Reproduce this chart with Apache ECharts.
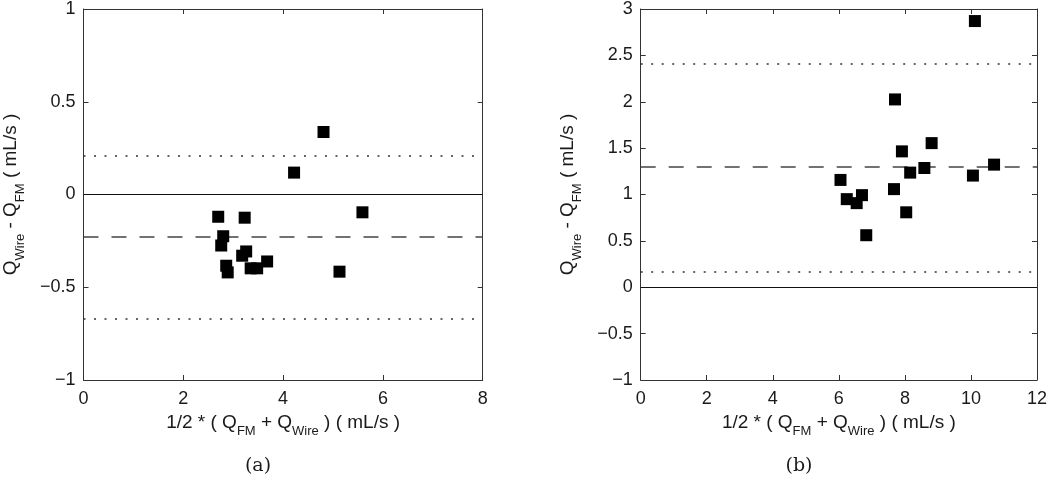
<!DOCTYPE html>
<html>
<head>
<meta charset="utf-8">
<script src="https://cdn.jsdelivr.net/npm/echarts@6/dist/echarts.min.js"></script>
<style>
html,body{margin:0;padding:0;background:#fff;}
#chart{width:1050px;height:483px;}
</style>
</head>
<body>
<div id="chart"></div>
<script>
// ---- data (panel a) ----
const aX = [4.81, 4.22, 5.59, 2.70, 3.23, 2.80, 2.76, 3.18, 3.26, 3.68, 2.86, 2.89, 3.35, 3.48, 5.13];
const aY = [0.337, 0.118, -0.096, -0.120, -0.125, -0.225, -0.275, -0.330, -0.307, -0.361, -0.384, -0.420, -0.398, -0.398, -0.416];
const aMean = -0.225;
const aUpper = 0.212;
const aLower = -0.666;
// ---- data (panel b) ----
const bX = [10.12, 7.70, 8.81, 7.91, 10.70, 8.59, 8.16, 10.06, 6.05, 7.67, 6.70, 6.24, 6.54, 8.04, 6.83];
const bY = [2.870, 2.025, 1.554, 1.465, 1.322, 1.286, 1.236, 1.204, 1.157, 1.058, 0.993, 0.950, 0.907, 0.808, 0.561];
const bMean = 1.297;
const bUpper = 2.408;
const bLower = 0.171;
// ---- axes ----
const aXRange = [0, 8];
const aYRange = [-1, 1];
const bXRange = [0, 12];
const bYRange = [-1, 3];
const xStep = 2;
const yStep = 0.5;
const captions = ['(a)', '(b)'];
const xName = ['1/2 * ( Q', 'FM', ' + Q', 'Wire', ' ) ( mL/s )'];
const yName = ['Q', 'Wire', ' - Q', 'FM', ' ( mL/s )'];

const FONT = '"Liberation Sans", Arial, sans-serif';
const TXT = '#1a1a1a';
const AXC = '#333';

function richName(parts) {
  return parts.map((p, i) => (i % 2 === 0 ? '{m|' : '{s|') + p + '}').join('');
}
const rich = {
  m: {fontSize: 19, fontFamily: FONT, color: TXT, lineHeight: 32, verticalAlign: 'middle'},
  s: {fontSize: 13, fontFamily: FONT, color: TXT, lineHeight: 32, verticalAlign: 'bottom'}
};
const fmt = v => String(v).replace('-', '\u2212');

function xAxisPair(gi, range) {
  const base = {
    gridIndex: gi, type: 'value', min: range[0], max: range[1], interval: xStep,
    splitLine: {show: false},
    axisLine: {show: true, onZero: false, lineStyle: {color: AXC, width: 1}},
    axisTick: {show: true, inside: true, length: 5, lineStyle: {color: AXC}}
  };
  return [
    Object.assign({}, base, {
      position: 'bottom',
      axisLabel: {show: true, fontSize: 18, fontFamily: FONT, color: TXT, margin: 10, formatter: fmt},
      name: richName(xName), nameLocation: 'middle', nameGap: 26,
      nameTextStyle: {rich: rich}
    }),
    Object.assign({}, base, {position: 'top', axisLabel: {show: false}})
  ];
}
function yAxisPair(gi, range) {
  const base = {
    gridIndex: gi, type: 'value', min: range[0], max: range[1], interval: yStep,
    splitLine: {show: false},
    axisLine: {show: true, onZero: false, lineStyle: {color: AXC, width: 1}},
    axisTick: {show: true, inside: true, length: 5, lineStyle: {color: AXC}}
  };
  return [
    Object.assign({}, base, {
      position: 'left',
      axisLabel: {show: true, fontSize: 18, fontFamily: FONT, color: TXT, margin: 8, formatter: fmt},
      name: richName(yName), nameLocation: 'middle', nameGap: 57, nameRotate: 90,
      nameTextStyle: {rich: rich}
    }),
    Object.assign({}, base, {position: 'right', axisLabel: {show: false}})
  ];
}
function refLines(vals) {
  return {
    silent: true, symbol: ['none', 'none'], label: {show: false},
    data: [
      {yAxis: vals.zero, lineStyle: {type: 'solid', color: '#111', width: 1.2}},
      {yAxis: vals.mean, lineStyle: {type: [15, 13], color: '#444', width: 1.5}},
      {yAxis: vals.upper, lineStyle: {type: [2, 8.5], color: '#333', width: 1.5}},
      {yAxis: vals.lower, lineStyle: {type: [2, 8.5], color: '#333', width: 1.5}}
    ]
  };
}
function pts(xs, ys) { return xs.map((x, i) => [x, ys[i]]); }

const chart = echarts.init(document.getElementById('chart'), null, {renderer: 'canvas'});
chart.setOption({
  animation: false,
  backgroundColor: '#fff',
  grid: [
    {left: 82.7, top: 6.7, width: 400, height: 373.3},
    {left: 640.7, top: 6.7, width: 397.5, height: 373.3}
  ],
  xAxis: [...xAxisPair(0, aXRange), ...xAxisPair(1, bXRange)],
  yAxis: [...yAxisPair(0, aYRange), ...yAxisPair(1, bYRange)],
  series: [
    {type: 'line', xAxisIndex: 0, yAxisIndex: 0, data: [], z: 1,
     markLine: refLines({zero: 0, mean: aMean, upper: aUpper, lower: aLower})},
    {type: 'scatter', xAxisIndex: 0, yAxisIndex: 0, symbol: 'rect', symbolSize: 12, z: 5,
     itemStyle: {color: '#000', opacity: 1}, data: pts(aX, aY)},
    {type: 'line', xAxisIndex: 2, yAxisIndex: 2, data: [], z: 1,
     markLine: refLines({zero: 0, mean: bMean, upper: bUpper, lower: bLower})},
    {type: 'scatter', xAxisIndex: 2, yAxisIndex: 2, symbol: 'rect', symbolSize: 12, z: 5,
     itemStyle: {color: '#000', opacity: 1}, data: pts(bX, bY)}
  ],
  graphic: [
    {type: 'text', x: 258, y: 466, style: {text: captions[0], textAlign: 'center', textVerticalAlign: 'middle', fontSize: 19, fontFamily: '"DejaVu Serif", serif', fill: TXT}},
    {type: 'text', x: 799, y: 466, style: {text: captions[1], textAlign: 'center', textVerticalAlign: 'middle', fontSize: 19, fontFamily: '"DejaVu Serif", serif', fill: TXT}}
  ]
});
</script>
</body>
</html>
